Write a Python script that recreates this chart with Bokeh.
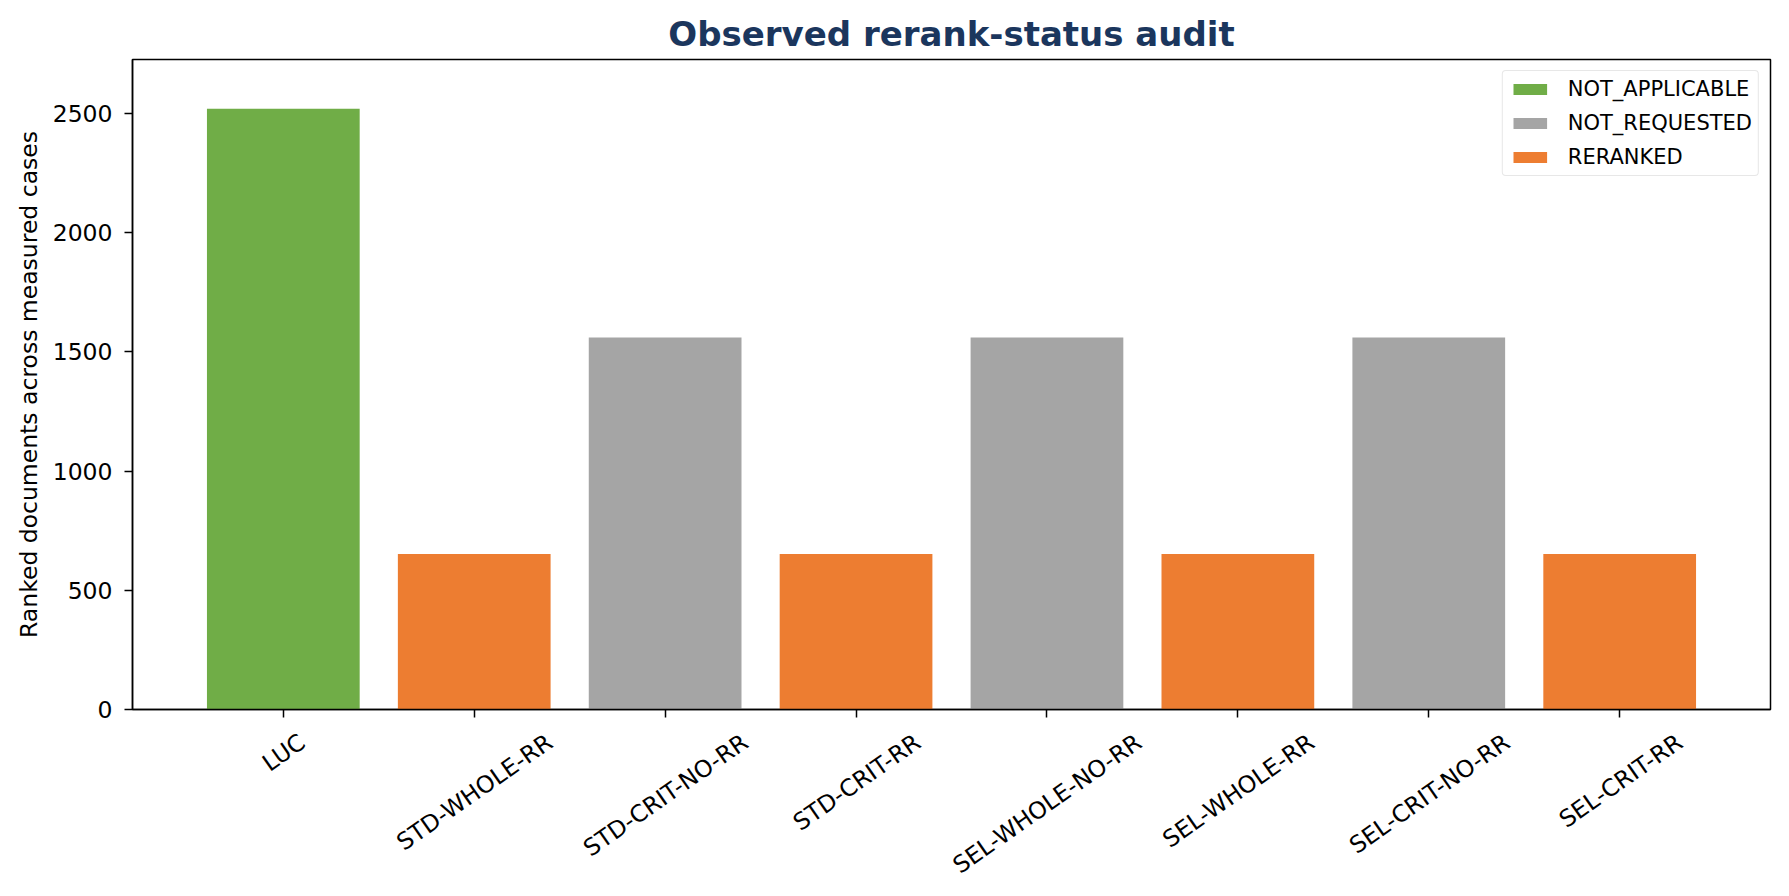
import math
from bokeh.plotting import figure
from bokeh.models import (ColumnDataSource, Legend, LegendItem, FixedTicker, Range1d,
                          LinearAxis, CustomJSTickFormatter)
from bokeh.embed import file_html
from bokeh.resources import INLINE

categories = ["LUC", "STD-WHOLE-RR", "STD-CRIT-NO-RR", "STD-CRIT-RR",
              "SEL-WHOLE-NO-RR", "SEL-WHOLE-RR", "SEL-CRIT-NO-RR", "SEL-CRIT-RR"]
values = [2520, 652, 1560, 652, 1560, 652, 1560, 652]
statuses = ["NOT_APPLICABLE", "RERANKED", "NOT_REQUESTED", "RERANKED",
            "NOT_REQUESTED", "RERANKED", "NOT_REQUESTED", "RERANKED"]
status_order = ["NOT_APPLICABLE", "NOT_REQUESTED", "RERANKED"]
status_colors = {"NOT_APPLICABLE": "#70AD47", "NOT_REQUESTED": "#A5A5A5", "RERANKED": "#ED7D31"}
y_ticks = [0, 500, 1000, 1500, 2000, 2500]

FONT = "DejaVu Sans"
TICK_PX = 23.5
ANGLE = math.radians(35)
W, H = 1789, 896
BL, BR, BT, BB = 132, 19, 59, 187
MARGIN = 0.79  # matplotlib-like x margin around the bar positions

# approximate DejaVu Sans advance widths (em) for centring rotated labels
CHAR_W = {"L": .557, "U": .732, "C": .698, "S": .635, "T": .611, "D": .770,
          "W": .989, "H": .752, "O": .787, "E": .632, "R": .695, "I": .295,
          "N": .748, "-": .361}

n = len(categories)
positions = list(range(n))

p = figure(width=W, height=H,
           x_range=Range1d(-MARGIN, n - 1 + MARGIN),
           y_range=Range1d(0, max(values) * 1.082),
           output_backend="svg", toolbar_location=None,
           min_border_left=BL, min_border_right=BR,
           min_border_top=BT, min_border_bottom=BB)

p.title.text = "Observed rerank-status audit"
p.title.text_font = FONT
p.title.text_font_size = "34px"
p.title.text_font_style = "bold"
p.title.text_color = "#1B365D"
p.title.align = "center"
p.title.standoff = 11

items = []
for st in status_order:
    xs = [pos for pos, s in zip(positions, statuses) if s == st]
    ys = [v for v, s in zip(values, statuses) if s == st]
    src = ColumnDataSource(dict(x=xs, top=ys))
    r = p.vbar(x="x", top="top", width=0.8, source=src,
               fill_color=status_colors[st], line_color=None)
    items.append(LegendItem(label=st, renderers=[r]))

legend = Legend(items=items, location="top_right")
legend.label_text_font = FONT
legend.label_text_font_size = "21px"
legend.label_text_color = "#000000"
legend.glyph_width = 42
legend.glyph_height = 14
legend.label_height = 22
legend.spacing = 10
legend.padding = 6
legend.margin = 11
legend.border_line_color = "#d0d0d0"
legend.border_line_width = 1.5
legend.border_radius = 4
legend.background_fill_alpha = 0.9
legend.label_standoff = 17
p.add_layout(legend)

p.xgrid.visible = False
p.ygrid.visible = False
p.outline_line_color = "black"
p.outline_line_width = 1.5
p.outline_line_alpha = 1.0

p.yaxis.ticker = FixedTicker(ticks=y_ticks)
p.yaxis.axis_label = "Ranked documents across measured cases"
p.yaxis.axis_label_text_font = FONT
p.yaxis.axis_label_text_font_size = "%.1fpx" % TICK_PX
p.yaxis.axis_label_text_font_style = "normal"
p.yaxis.axis_label_text_color = "black"
p.yaxis.axis_label_standoff = 7
p.yaxis.major_label_standoff = 12

for ax in (p.xaxis, p.yaxis):
    ax.major_label_text_font = FONT
    ax.major_label_text_font_size = "%.1fpx" % TICK_PX
    ax.major_label_text_color = "black"
    ax.axis_line_color = "black"
    ax.axis_line_width = 1.5
    ax.major_tick_line_color = "black"
    ax.major_tick_line_width = 1.5
    ax.major_tick_out = 8
    ax.major_tick_in = 0
    ax.minor_tick_line_color = None

# main x axis: tick marks under each bar, no text
p.xaxis.ticker = FixedTicker(ticks=positions)
p.xaxis.formatter = CustomJSTickFormatter(code="return ''")
p.xaxis.major_label_text_font_size = "1px"
p.xaxis.major_label_standoff = 0

# second axis carries the category names, rotated 35 degrees; Bokeh anchors
# rotated labels at their right end, so each tick is moved right by half the
# label's horizontal extent to centre the label under its bar.
px_per_unit = (W - BL - BR) / (n - 1 + 2 * MARGIN)
lab_ticks = []
for pos, c in zip(positions, categories):
    w = sum(CHAR_W.get(ch, 0.65) for ch in c) * TICK_PX
    lab_ticks.append(round(pos + (w / 2) * math.cos(ANGLE) / px_per_unit, 5))
lab_axis = LinearAxis(ticker=FixedTicker(ticks=lab_ticks),
                      formatter=CustomJSTickFormatter(args=dict(names=categories),
                                                      code="return names[index]"),
                      major_label_orientation=ANGLE,
                      major_label_text_font=FONT,
                      major_label_text_font_size="%.1fpx" % TICK_PX,
                      major_label_text_color="black",
                      major_label_standoff=16,
                      axis_line_color=None, major_tick_line_color=None,
                      minor_tick_line_color=None)
p.add_layout(lab_axis, "below")

open("out.html", "w").write(file_html(p, INLINE))
